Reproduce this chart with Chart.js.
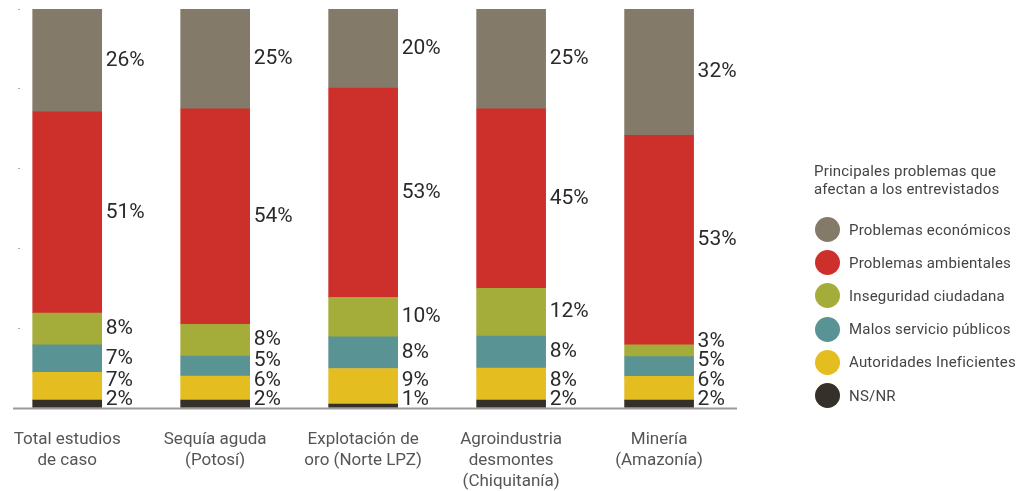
<!DOCTYPE html>
<html>
<head>
<meta charset="utf-8">
<script src="https://cdn.jsdelivr.net/npm/chart.js@4.4.0/dist/chart.umd.min.js"></script>
<style>
  html, body { margin: 0; padding: 0; background: #fff; }
  #wrap { position: relative; width: 1023px; height: 491px; }
  #leyenda { position: absolute; left: 814px; top: 162px; font-family: Roboto, sans-serif; color: #444; letter-spacing: 0.2px; }
  #leyenda .titulo { font-size: 15px; line-height: 18px; margin-bottom: 15px; }
  #leyenda .item { display: flex; align-items: center; height: 33.2px; font-size: 15px; }
  #leyenda .punto { width: 25px; height: 25px; border-radius: 50%; margin-left: 1px; margin-right: 9px; }
</style>
</head>
<body>
<div id="wrap">
  <canvas id="grafico"></canvas>
  <div id="leyenda"></div>
</div>
<script>
// categorías (eje x)
const categorias = [
  ["Total estudios", "de caso"],
  ["Sequía aguda", "(Potosí)"],
  ["Explotación de", "oro (Norte LPZ)"],
  ["Agroindustria", "desmontes", "(Chiquitanía)"],
  ["Minería", "(Amazonía)"]
];

// porcentajes por serie (de abajo hacia arriba)
const nsnr        = [2, 2, 1, 2, 2];
const autoridades = [7, 6, 9, 8, 6];
const malos       = [7, 5, 8, 8, 5];
const inseguridad = [8, 8, 10, 12, 3];
const ambientales = [51, 54, 53, 45, 53];
const economicos  = [26, 25, 20, 25, 32];

const series = [
  { nombre: "NS/NR", valores: nsnr, color: "#36302a" },
  { nombre: "Autoridades Ineficientes", valores: autoridades, color: "#e4bd20" },
  { nombre: "Malos servicio públicos", valores: malos, color: "#5a9393" },
  { nombre: "Inseguridad ciudadana", valores: inseguridad, color: "#a5ad3a" },
  { nombre: "Problemas ambientales", valores: ambientales, color: "#cd302b" },
  { nombre: "Problemas económicos", valores: economicos, color: "#847a69" }
];

const tituloLeyenda = ["Principales problemas que", "afectan a los entrevistados"];
const ticksY = [0, 20, 40, 60, 80, 100];

// totales por barra, para que cada barra llene el 100%
const totales = categorias.map((_, i) => series.reduce((s, d) => s + d.valores[i], 0));

// etiquetas de porcentaje a la derecha de cada segmento
const etiquetas = {
  id: 'etiquetas',
  afterDatasetsDraw(chart) {
    const ctx = chart.ctx;
    const y0 = chart.scales.y.getPixelForValue(0);
    ctx.save();
    ctx.font = '21px Roboto, sans-serif';
    ctx.fillStyle = '#2a2a2a';
    ctx.textAlign = 'left';
    ctx.textBaseline = 'middle';
    categorias.forEach((_, i) => {
      let prev = null;
      series.forEach((s, k) => {
        const bar = chart.getDatasetMeta(k).data[i];
        let yc = (bar.y + bar.base) / 2;
        if (prev === null) yc = Math.min(yc, y0 - 8);
        else yc = Math.min(yc, prev - 19.5);
        prev = yc;
        ctx.fillText(s.valores[i] + '%', bar.x + bar.width / 2 + 4, yc);
      });
    });
    // línea base
    ctx.strokeStyle = '#9a9a9a';
    ctx.lineWidth = 2;
    ctx.beginPath();
    ctx.moveTo(chart.chartArea.left - 7, y0 + 0.5);
    ctx.lineTo(chart.chartArea.right, y0 + 0.5);
    ctx.stroke();
    ctx.restore();
  }
};

new Chart(document.getElementById('grafico'), {
  type: 'bar',
  data: {
    datasets: series.map(s => ({
      label: s.nombre,
      data: s.valores.map((v, i) => ({ x: i, y: v / totales[i] * 100 })),
      backgroundColor: s.color,
      borderWidth: 0,
      barThickness: 69
    }))
  },
  options: {
    responsive: true,
    maintainAspectRatio: false,
    animation: false,
    layout: { padding: { left: 8, top: 9, right: 286, bottom: 0 } },
    plugins: { legend: { display: false }, tooltip: { enabled: false } },
    scales: {
      x: {
        type: 'linear',
        stacked: true,
        offset: false,
        min: -0.3186,
        max: 4.5264,
        afterFit: s => { s.height = 83; },
        grid: { display: false },
        border: { display: false },
        ticks: {
          stepSize: 1,
          includeBounds: false,
          padding: 13,
          maxRotation: 0,
          autoSkip: false,
          color: '#555',
          font: { family: 'Roboto, sans-serif', size: 17, lineHeight: 1.24 },
          callback: v => Number.isInteger(v) ? categorias[v] : ''
        }
      },
      y: {
        stacked: true,
        min: 0,
        max: 100,
        afterBuildTicks: s => { s.ticks = ticksY.map(v => ({ value: v })); },
        afterFit: s => { s.width = 2; },
        grid: { drawOnChartArea: false, tickLength: 2, color: '#aaa' },
        border: { display: false },
        ticks: { display: false }
      }
    }
  },
  plugins: [etiquetas]
});

// leyenda en HTML, de arriba hacia abajo
const ley = document.getElementById('leyenda');
ley.innerHTML = '<div class="titulo">' + tituloLeyenda.join('<br>') + '</div>' +
  series.slice().reverse().map(s =>
    '<div class="item"><span class="punto" style="background:' + s.color + '"></span>' + s.nombre + '</div>'
  ).join('');
</script>
</body>
</html>
